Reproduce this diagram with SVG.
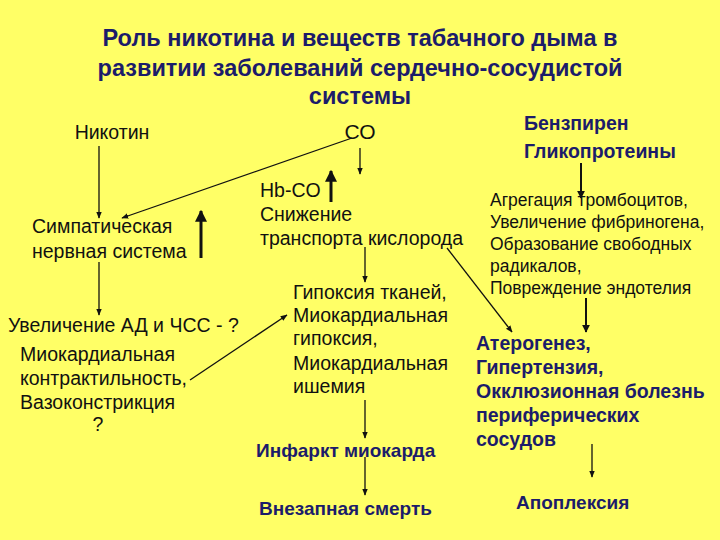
<svg xmlns="http://www.w3.org/2000/svg" width="720" height="540" viewBox="0 0 720 540">
<style>
text{font-family:"Liberation Sans",Arial,sans-serif;fill:#111}
.t{font-size:23.5px;font-weight:bold;fill:#1c1c6a;text-anchor:middle}
.r{font-size:19.5px}
.s{font-size:17.5px}
.b{font-size:19.5px;font-weight:bold;fill:#1c1c6a}
.c{fill:none;stroke:#111;stroke-width:1.3}
.k{fill:none;stroke:#111;stroke-width:3}
</style>
<defs>
<marker id="a" viewBox="0 0 10 10" refX="9" refY="5" markerWidth="7" markerHeight="7" orient="auto-start-reverse" markerUnits="userSpaceOnUse"><path d="M0,1 L10,5 L0,9 z" fill="#111"/></marker>
<marker id="ak" viewBox="0 0 10 10" refX="9" refY="5" markerWidth="4" markerHeight="4" orient="auto-start-reverse"><path d="M0,0 L10,5 L0,10 z" fill="#111"/></marker>
</defs>
<rect width="720" height="540" fill="#ffff66"/>
<g id="title"><text class="t" x="360" y="46">Роль никотина и веществ табачного дыма в</text><text class="t" x="360" y="76">развитии заболеваний сердечно-сосудистой</text><text class="t" x="360" y="104">системы</text></g>
<g id="nikotin"><text class="r" x="112" y="139" text-anchor="middle">Никотин</text></g>
<g id="co"><text class="r" x="360" y="139" text-anchor="middle" style="font-size:21px">СО</text></g>
<g id="benz"><text class="b" x="524" y="130">Бензпирен</text><text class="b" x="524" y="158">Гликопротеины</text></g>
<g id="symp"><text class="r" x="32" y="233">Симпатическая</text><text class="r" x="32" y="258">нервная система</text></g>
<g id="hbco"><text class="r" x="260" y="197">Hb-CO</text><text class="r" x="260" y="221">Снижение</text><text class="r" x="260" y="245">транспорта кислорода</text></g>
<g id="agreg"><text class="s" x="490" y="206">Агрегация тромбоцитов,</text><text class="s" x="490" y="228">Увеличение фибриногена,</text><text class="s" x="490" y="250">Образование свободных</text><text class="s" x="490" y="272">радикалов,</text><text class="s" x="490" y="294">Повреждение эндотелия</text></g>
<g id="hyp"><text class="r" x="293" y="299">Гипоксия тканей,</text><text class="r" x="293" y="322">Миокардиальная</text><text class="r" x="293" y="345">гипоксия,</text><text class="r" x="293" y="370">Миокардиальная</text><text class="r" x="293" y="393">ишемия</text></g>
<g id="uvel"><text class="r" x="8" y="332">Увеличение АД и ЧСС - ?</text><text class="r" x="20" y="361">Миокардиальная</text><text class="r" x="20" y="385">контрактильность,</text><text class="r" x="20" y="409">Вазоконстрикция</text><text class="r" x="98" y="431" text-anchor="middle">?</text></g>
<g id="ather"><text class="b" x="476" y="350">Атерогенез,</text><text class="b" x="476" y="374">Гипертензия,</text><text class="b" x="476" y="398">Окклюзионная болезнь</text><text class="b" x="476" y="422">периферических</text><text class="b" x="476" y="446">сосудов</text></g>
<g id="infarkt"><text class="b" x="256" y="457" style="font-size:19px">Инфаркт миокарда</text></g>
<g id="smert"><text class="b" x="259" y="515" style="font-size:19px">Внезапная смерть</text></g>
<g id="apopl"><text class="b" x="516" y="509" style="font-size:19px">Апоплексия</text></g>
<g id="connectors">
<line class="c" x1="99" y1="146" x2="99" y2="218" marker-end="url(#a)"/>
<line class="c" x1="352" y1="138" x2="122" y2="218" marker-end="url(#a)"/>
<line class="c" x1="360" y1="148" x2="360" y2="174" marker-end="url(#a)"/>
<line class="k" x1="331" y1="202" x2="331" y2="171" marker-end="url(#ak)"/>
<line class="k" x1="201" y1="258" x2="201" y2="211" marker-end="url(#ak)"/>
<line class="c" x1="99" y1="262" x2="99" y2="315" marker-end="url(#a)"/>
<line class="c" x1="365" y1="247" x2="365" y2="282" marker-end="url(#a)"/>
<line class="c" x1="447" y1="248" x2="512" y2="332" marker-end="url(#a)"/>
<line class="c" x1="190" y1="380" x2="287" y2="315" marker-end="url(#a)"/>
<line class="c" x1="365" y1="400" x2="365" y2="438" marker-end="url(#a)"/>
<line class="c" x1="365" y1="457" x2="365" y2="495" marker-end="url(#a)"/>
<line class="k" x1="581" y1="163" x2="581" y2="198" marker-end="url(#ak)" style="stroke-width:2"/>
<line class="k" x1="586" y1="298" x2="586" y2="332" marker-end="url(#ak)" style="stroke-width:2"/>
<line class="c" x1="592" y1="444" x2="592" y2="477" marker-end="url(#a)"/>
</g>
</svg>
